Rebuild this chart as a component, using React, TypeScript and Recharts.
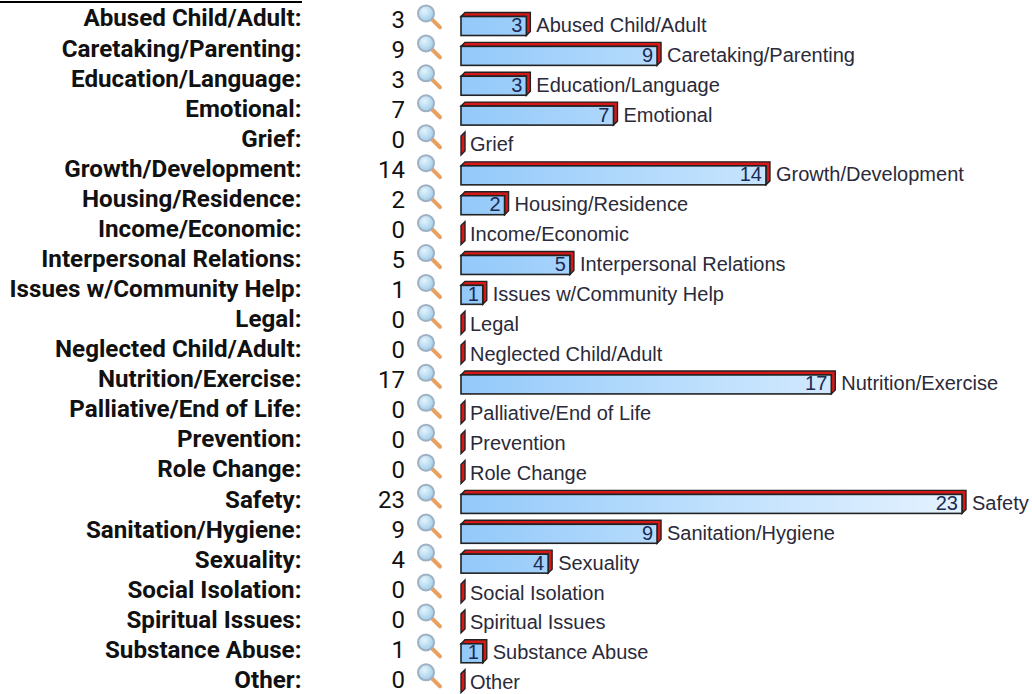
import React from "react";
import { BarChart, Bar, XAxis, YAxis, LabelList } from "recharts";

const CATEGORIES = [
  "Abused Child/Adult",
  "Caretaking/Parenting",
  "Education/Language",
  "Emotional",
  "Grief",
  "Growth/Development",
  "Housing/Residence",
  "Income/Economic",
  "Interpersonal Relations",
  "Issues w/Community Help",
  "Legal",
  "Neglected Child/Adult",
  "Nutrition/Exercise",
  "Palliative/End of Life",
  "Prevention",
  "Role Change",
  "Safety",
  "Sanitation/Hygiene",
  "Sexuality",
  "Social Isolation",
  "Spiritual Issues",
  "Substance Abuse",
  "Other",
];
const COUNTS = [3, 9, 3, 7, 0, 14, 2, 0, 5, 1, 0, 0, 17, 0, 0, 0, 23, 9, 4, 0, 0, 1, 0];

const DATA = CATEGORIES.map((name, i) => ({ name, count: COUNTS[i] }));

const DEPTH = 4;

function Bar3D({ x, y, width, height }: any) {
  const top = y + DEPTH;
  const h = height - DEPTH;
  if (width < 1) {
    // empty rows still draw a sliver of the extruded side
    return (
      <path
        d={`M${x} ${y + height} V${top} L${x + DEPTH} ${y} V${y + height - DEPTH} Z`}
        fill="#d81818"
        stroke="#222"
        strokeWidth={1.4}
      />
    );
  }
  const r = x + width;
  return (
    <g>
      <path
        d={`M${x} ${top} L${x + DEPTH} ${y} H${r + DEPTH} V${y + h} L${r} ${y + height} V${top} Z`}
        fill="#d81818"
        stroke="#222"
        strokeWidth={1.4}
      />
      <rect
        x={x}
        y={top}
        width={width}
        height={h}
        fill="url(#barFill)"
        stroke="#222"
        strokeWidth={1.6}
      />
    </g>
  );
}

function Magnifier({ x, y }: { x: number; y: number }) {
  return (
    <g transform={`translate(${x},${y})`}>
      <path d="M6.5 6.5 L14 14" stroke="#e8a060" strokeWidth={4} strokeLinecap="round" />
      <circle cx={0} cy={0} r={8} fill="url(#lensFill)" stroke="#9fb0c2" strokeWidth={2} />
    </g>
  );
}

function RowTick({ y, index, payload }: any) {
  return (
    <g>
      <text
        x={301.5}
        y={y - 5.5 + index * 0.2}
        textAnchor="end"
        dominantBaseline="central"
        fontFamily="Roboto"
        fontWeight={700}
        fontSize={24.2}
        fill="#111"
      >
        {payload.value}:
      </text>
      <text
        x={405}
        y={y - 3.5 + index * 0.11}
        textAnchor="end"
        dominantBaseline="central"
        fontFamily="Roboto"
        fontSize={24}
        fill="#111"
      >
        {COUNTS[index]}
      </text>
      <Magnifier x={426} y={y - 10.5 + index * 0.08} />
    </g>
  );
}

function BarText({ x, y, width, height, value, index }: any) {
  const r = x + width;
  const mid = y + height / 2 + 1;
  return (
    <g fontFamily="Liberation Sans" fontSize={20}>
      {value > 0 && (
        <text x={r - 4} y={mid} textAnchor="end" dominantBaseline="central" fill="#1b2a55">
          {value}
        </text>
      )}
      <text x={r + (value > 0 ? 10 : 9)} y={mid} dominantBaseline="central" fill="#2a2a3a">
        {CATEGORIES[index]}
      </text>
    </g>
  );
}

export default function App() {
  return (
    <div
      style={{
        position: "absolute",
        left: 0,
        top: 0,
        width: 1032,
        height: 694,
        overflow: "hidden",
        background: "#fff",
      }}
    >
      <div style={{ position: "absolute", left: 0, top: 1, width: 302, height: 2, background: "#000" }} />
      <BarChart
        width={1032}
        height={696}
        layout="vertical"
        data={DATA}
        margin={{ top: 9, right: 70, bottom: 0, left: 0 }}
        barCategoryGap={3.5}
      >
        <defs>
          <linearGradient id="barFill" gradientUnits="userSpaceOnUse" x1="461" y1="0" x2="962" y2="0">
            <stop offset="0%" stopColor="#93c9fa" />
            <stop offset="50%" stopColor="#bfe0fd" />
            <stop offset="100%" stopColor="#e4f2ff" />
          </linearGradient>
          <radialGradient id="lensFill" cx="40%" cy="35%" r="70%">
            <stop offset="0%" stopColor="#e4f4fc" />
            <stop offset="100%" stopColor="#9ccbe8" />
          </radialGradient>
        </defs>
        <XAxis type="number" hide domain={[0, 23]} />
        <YAxis
          type="category"
          dataKey="name"
          width={461}
          axisLine={false}
          tickLine={false}
          interval={0}
          tick={RowTick}
        />
        <Bar dataKey="count" shape={Bar3D} isAnimationActive={false}>
          <LabelList dataKey="count" content={BarText} />
        </Bar>
      </BarChart>
    </div>
  );
}
